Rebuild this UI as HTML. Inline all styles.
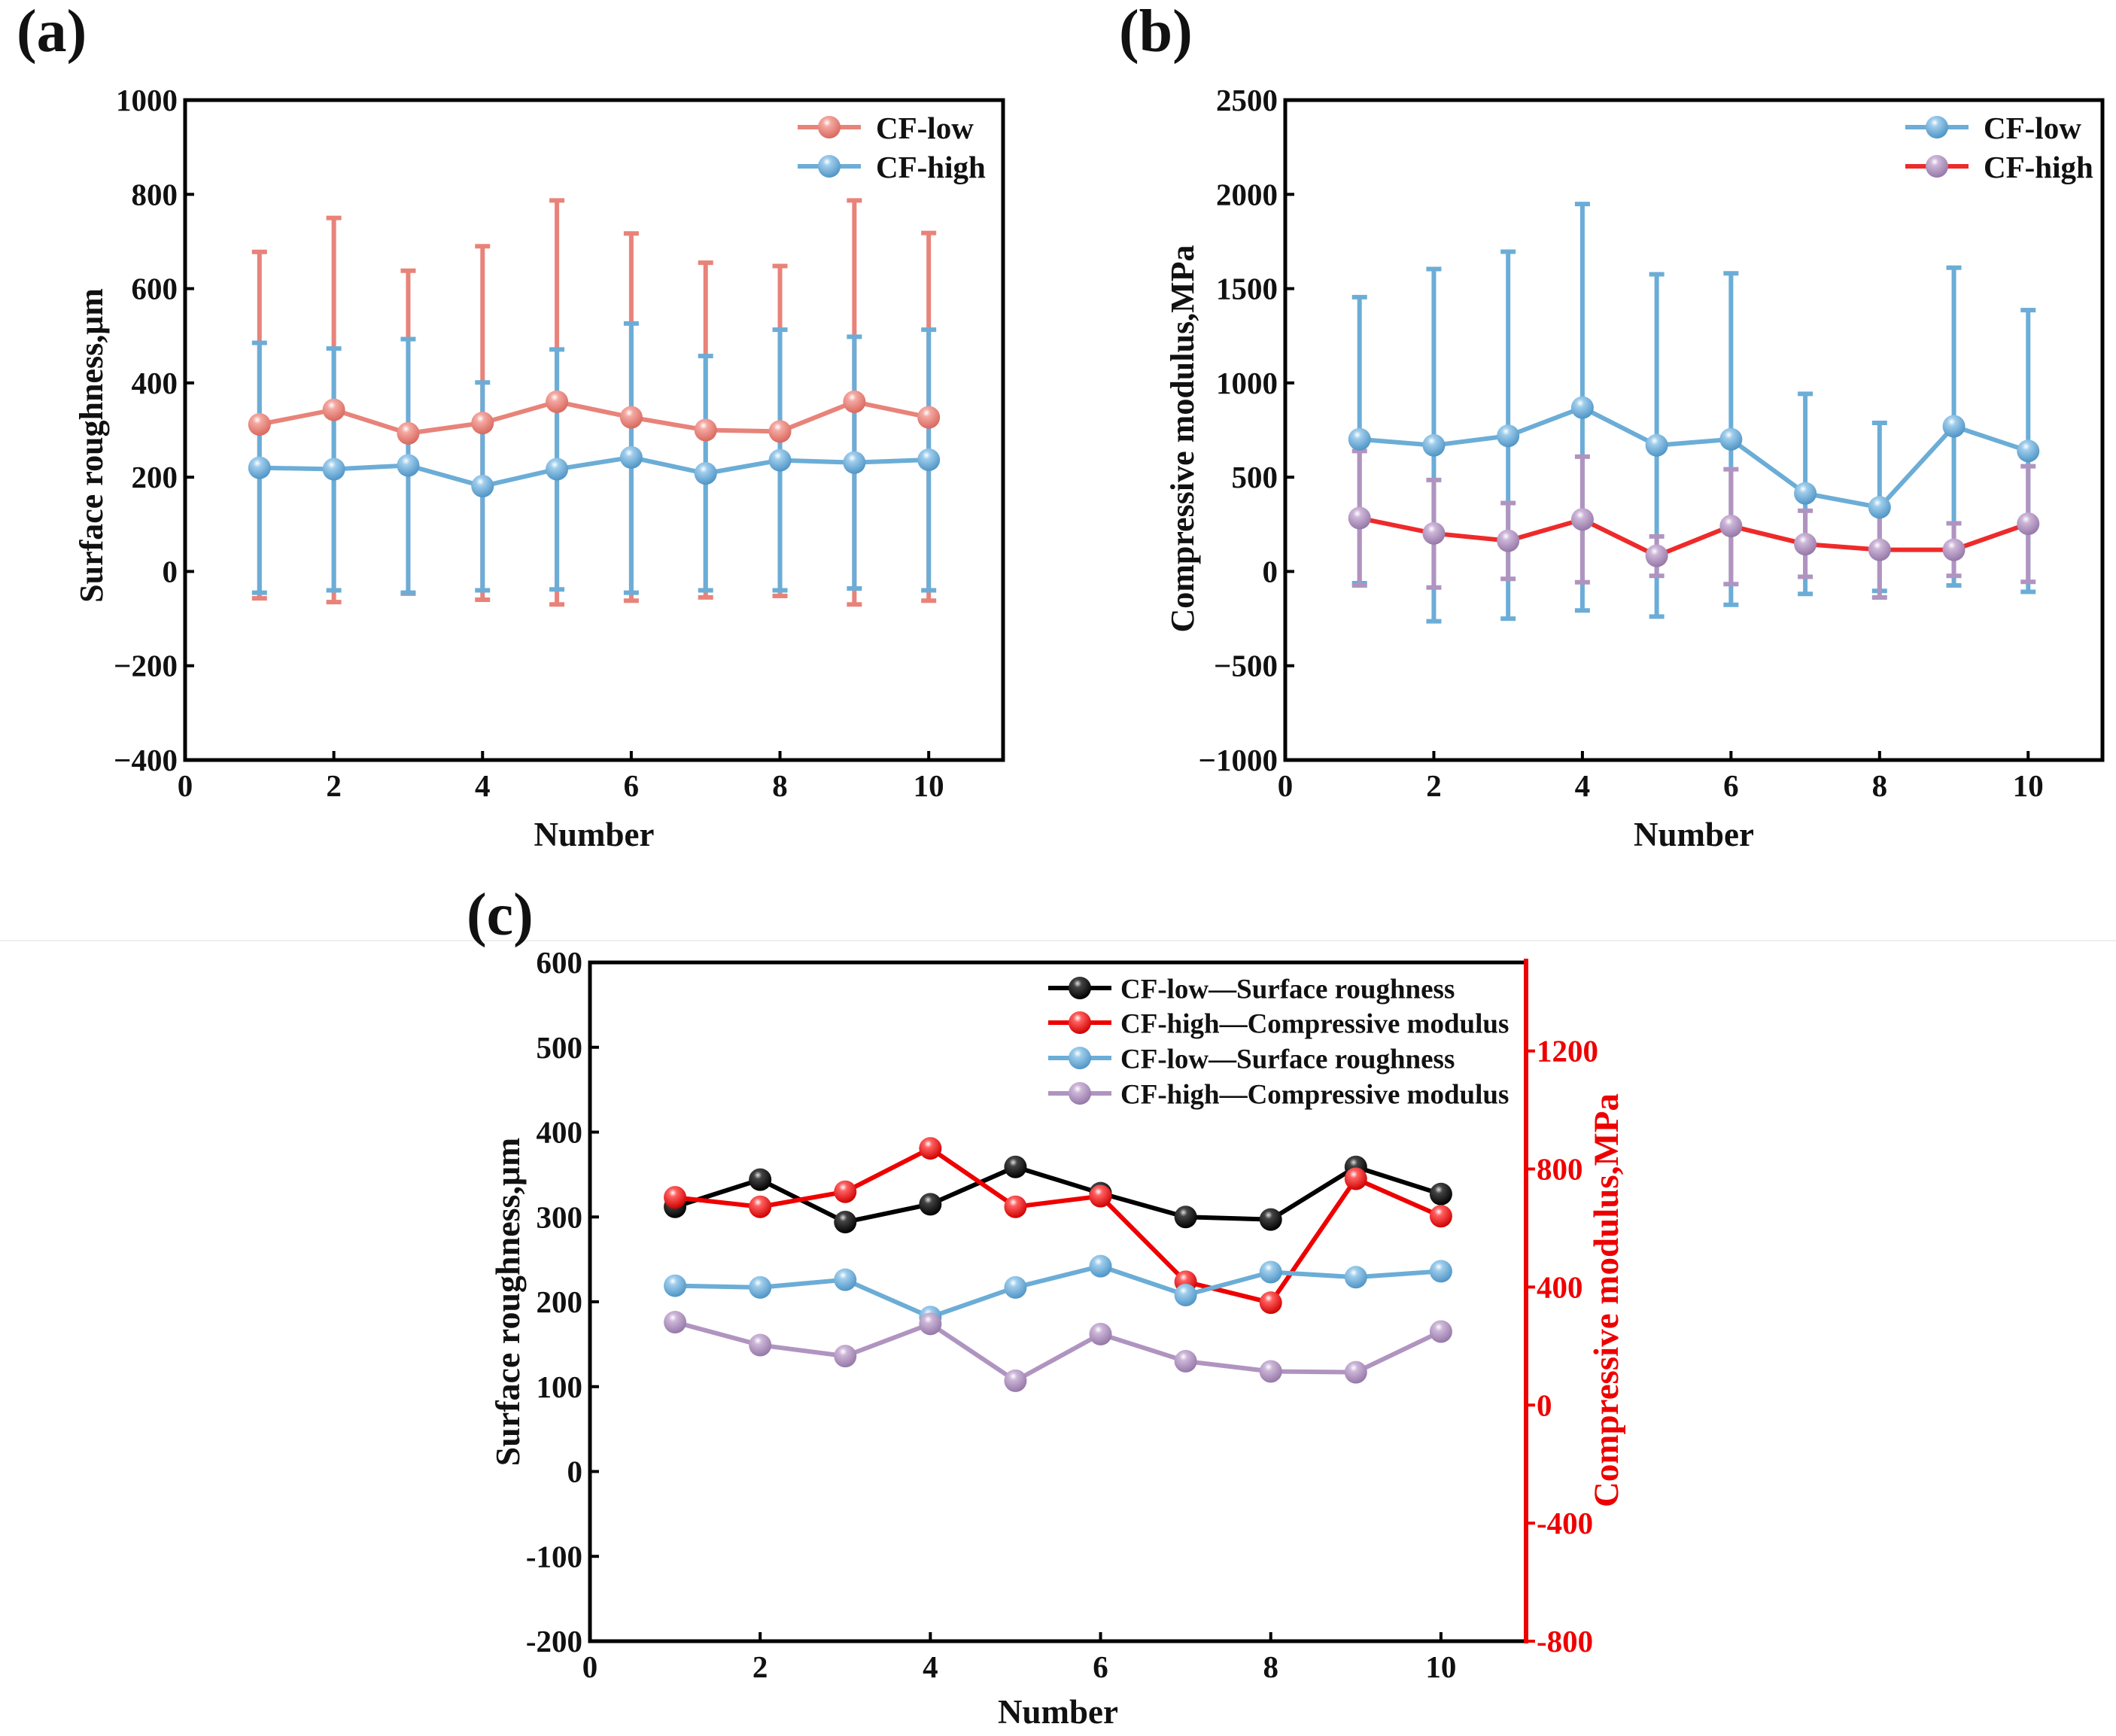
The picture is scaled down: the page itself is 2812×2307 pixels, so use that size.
<!DOCTYPE html>
<html><head><meta charset="utf-8"><style>
html,body{margin:0;padding:0;background:#fff}
svg{display:block}
text{font-family:"Liberation Serif",serif;font-weight:bold;fill:#111}
</style></head><body>
<svg id="s" width="2812" height="2307" viewBox="0 0 2812 2307" xmlns="http://www.w3.org/2000/svg">
<defs>
<radialGradient id="g-salmon" cx="0.4" cy="0.3" r="0.7"><stop offset="0" stop-color="#fff"/><stop offset="0.25" stop-color="#f4a9a2"/><stop offset="1" stop-color="#d9685e"/></radialGradient>
<radialGradient id="g-blue" cx="0.4" cy="0.3" r="0.7"><stop offset="0" stop-color="#fff"/><stop offset="0.25" stop-color="#9fcdec"/><stop offset="1" stop-color="#4f95c6"/></radialGradient>
<radialGradient id="g-purple" cx="0.4" cy="0.3" r="0.7"><stop offset="0" stop-color="#fff"/><stop offset="0.25" stop-color="#cdb6d8"/><stop offset="1" stop-color="#9578a8"/></radialGradient>
<radialGradient id="g-red" cx="0.4" cy="0.3" r="0.7"><stop offset="0" stop-color="#fff"/><stop offset="0.25" stop-color="#ff6060"/><stop offset="1" stop-color="#d00000"/></radialGradient>
<radialGradient id="g-black" cx="0.4" cy="0.3" r="0.7"><stop offset="0" stop-color="#ddd"/><stop offset="0.25" stop-color="#444"/><stop offset="1" stop-color="#000"/></radialGradient>
</defs>
<line x1="0" y1="1250" x2="2812" y2="1250" stroke="#eeeeee" stroke-width="2"/>
<g id="root"></g>
</svg>
<script>
// ---------- data ----------
const numbers = [1,2,3,4,5,6,7,8,9,10];
// Panel a
const aLowVal = [312,343,293,315,360,327,300,297,360,327];
const aLowUp  = [678,750,638,690,787,717,655,648,787,718];
const aLowDn  = [-57,-65,-47,-60,-70,-62,-55,-52,-70,-62];
const aHighVal = [220,217,225,181,217,242,208,236,231,237];
const aHighUp  = [485,473,493,401,471,526,457,513,498,513];
const aHighDn  = [-45,-40,-45,-40,-38,-45,-40,-40,-36,-40];
const aYTicks = [-400,-200,0,200,400,600,800,1000];
// Panel b
const bLowVal = [701,669,719,869,669,701,414,340,770,639];
const bLowUp  = [1455,1604,1696,1949,1576,1581,942,788,1611,1386];
const bLowDn  = [-62,-264,-250,-207,-239,-177,-119,-103,-74,-108];
const bHighVal = [283,202,163,276,83,241,145,115,115,253];
const bHighUp  = [639,485,363,609,186,542,322,370,255,558];
const bHighDn  = [-74,-85,-39,-57,-23,-67,-28,-138,-23,-55];
const bYTicks = [-1000,-500,0,500,1000,1500,2000,2500];
// Panel c
const cBlack  = [312,344,294,315,359,328,300,297,359,327];
const cRed    = [704,672,723,870,672,708,418,347,767,640];
const cBlue   = [219,217,226,182,217,242,208,235,229,236];
const cPurple = [176,149,136,174,107,162,130,118,117,165];
const cYTicks = [-200,-100,0,100,200,300,400,500,600];
const cY2Ticks = [-800,-400,0,400,800,1200];
const xTicks = [0,2,4,6,8,10];

const NS="http://www.w3.org/2000/svg";
const root=document.getElementById('root');
function mk(tag,attrs,parent){const e=document.createElementNS(NS,tag);for(const k in attrs)e.setAttribute(k,attrs[k]);(parent||root).appendChild(e);return e;}
function txt(str,attrs,parent){const e=mk('text',attrs,parent);e.textContent=str;return e;}

function panel(cfg){
  const g=mk('g',{});
  
  
  const {L,R,T,B,ymin,ymax}=cfg;
  const xs=v=>L+(v-0)/11*(R-L);
  const ys=v=>B-(v-ymin)/(ymax-ymin)*(B-T);
  cfg.xs=xs;cfg.ys=ys;
  xTicks.forEach(t=>{
    const tl=mk('line',{x1:xs(t),x2:xs(t),y1:B,y2:B-12,stroke:'#000','stroke-width':4},g);
    
    
    const lb=txt(String(t),{x:xs(t),y:B+48,'text-anchor':'middle','font-size':41},g);
    
    
  });
  cfg.yTicks.forEach(t=>{
    const tl=mk('line',{x1:L,x2:L+12,y1:ys(t),y2:ys(t),stroke:'#000','stroke-width':4},g);
    
    
    const lb=txt(String(t).replace('-',cfg.minus),{x:L-10,y:ys(t)+14,'text-anchor':'end','font-size':41},g);
    
    
  });
  const xt=txt('Number',{x:(L+R)/2,y:cfg.xtY,'text-anchor':'middle','font-size':45},g);
  
  
  const yt=txt(cfg.ytitle,{x:0,y:0,'text-anchor':'middle','font-size':cfg.ytFs,transform:`translate(${cfg.ytX},${cfg.ytY}) rotate(-90)`},g);
  
  
  const pl=txt(cfg.label,{x:cfg.labX,y:cfg.labY,'font-size':80},g);
  
  
  cfg.g=g;
  return cfg;
}
function frame(cfg){
  const f=mk('rect',{x:cfg.L,y:cfg.T,width:cfg.R-cfg.L,height:cfg.B-cfg.T,fill:'none',stroke:'#000','stroke-width':5},cfg.g);
  
  
}
function errbars(cfg,up,dn,color,name){
  numbers.forEach((n,i)=>{
    const x=cfg.xs(n);
    const e=mk('path',{d:`M${x},${cfg.ys(up[i])}V${cfg.ys(dn[i])}M${x-10},${cfg.ys(up[i])}H${x+10}M${x-10},${cfg.ys(dn[i])}H${x+10}`,stroke:color,'stroke-width':6,fill:'none'},cfg.g);
    
    
  });
}
function series(cfg,vals,lineColor,grad,name,ys){
  ys=ys||cfg.ys;
  const d=numbers.map((n,i)=>(i?'L':'M')+cfg.xs(n)+','+ys(vals[i])).join('');
  const p=mk('path',{d,stroke:lineColor,'stroke-width':6,fill:'none'},cfg.g);
  
  
  numbers.forEach((n,i)=>{
    const c=mk('circle',{cx:cfg.xs(n),cy:ys(vals[i]),r:15,fill:`url(#${grad})`},cfg.g);
    
    
  });
}
function legend(cfg,x,y,lineColor,grad,label,fs,name,gap){
  const g=mk('g',{},cfg.g);
  
  
  mk('line',{x1:x,x2:x+84,y1:y,y2:y,stroke:lineColor,'stroke-width':6},g);
  mk('circle',{cx:x+42,cy:y,r:15,fill:`url(#${grad})`},g);
  txt(label,{x:x+gap,y:y+fs*0.36,'font-size':fs},g);
}

// Panel a
const A=panel({name:'panel-a',L:246,R:1333,T:133,B:1010,ymin:-400,ymax:1000,yTicks:aYTicks,minus:'\u2212',xtY:1124,ytitle:'Surface roughness,\u03bcm',ytX:136,ytY:592,ytFs:44,label:'(a)',labX:22,labY:68});
errbars(A,aLowUp,aLowDn,'#e8837a','cf-low');
errbars(A,aHighUp,aHighDn,'#6badd6','cf-high');
series(A,aLowVal,'#e8837a','g-salmon','cf-low');
series(A,aHighVal,'#6badd6','g-blue','cf-high');
frame(A);
legend(A,1060,169,'#e8837a','g-salmon','CF-low',41,'legend-cf-low',104);
legend(A,1060,221,'#6badd6','g-blue','CF-high',41,'legend-cf-high',104);

// Panel b
const Bp=panel({name:'panel-b',L:1708,R:2794,T:133,B:1010,ymin:-1000,ymax:2500,yTicks:bYTicks,minus:'\u2212',xtY:1124,ytitle:'Compressive modulus,MPa',ytX:1586,ytY:583,ytFs:44,label:'(b)',labX:1487,labY:68});
errbars(Bp,bLowUp,bLowDn,'#6badd6','cf-low');
errbars(Bp,bHighUp,bHighDn,'#b094c0','cf-high');
series(Bp,bLowVal,'#6badd6','g-blue','cf-low');
series(Bp,bHighVal,'#ee2a2a','g-purple','cf-high');
frame(Bp);
legend(Bp,2532,169,'#6badd6','g-blue','CF-low',41,'legend-cf-low',104);
legend(Bp,2532,221,'#ee2a2a','g-purple','CF-high',41,'legend-cf-high',104);

// Panel c
const C=panel({name:'panel-c',L:784,R:2028,T:1279,B:2181,ymin:-200,ymax:600,yTicks:cYTicks,minus:'-',xtY:2290,ytitle:'Surface roughness,\u03bcm',ytX:690,ytY:1730,ytFs:46,label:'(c)',labX:620,labY:1242});
const ys2=v=>C.B-(v+800)/2300*(C.B-C.T);
series(C,cBlack,'#000','g-black','cf-low-roughness');
series(C,cRed,'#ee0000','g-red','cf-high-modulus',ys2);
series(C,cBlue,'#6badd6','g-blue','cf-low-roughness-2');
series(C,cPurple,'#b094c0','g-purple','cf-high-modulus-2');
const fr=mk('path',{d:`M${C.R},${C.T}H${C.L}V${C.B}H${C.R}`,stroke:'#000','stroke-width':5,fill:'none'},C.g);


const ra=mk('line',{x1:C.R,x2:C.R,y1:C.T-5,y2:C.B+3,stroke:'#ee0000','stroke-width':6},C.g);


cY2Ticks.forEach(t=>{
  const tl=mk('line',{x1:C.R,x2:C.R+12,y1:ys2(t),y2:ys2(t),stroke:'#ee0000','stroke-width':4},C.g);
  
  
  const lb=txt(String(t),{x:C.R+14,y:ys2(t)+14,'font-size':41,style:'fill:#ee0000'},C.g);
  
  
});
const rt=txt('Compressive modulus,MPa',{x:0,y:0,'text-anchor':'middle','font-size':47,style:'fill:#ee0000',transform:`translate(2150,${(C.T+C.B)/2-2}) rotate(-90)`},C.g);


legend(C,1393,1313,'#000','g-black','CF-low\u2014Surface roughness',37,'legend-cf-low-roughness',96);
legend(C,1393,1359,'#ee0000','g-red','CF-high\u2014Compressive modulus',37,'legend-cf-high-modulus',96);
legend(C,1393,1406,'#6badd6','g-blue','CF-low\u2014Surface roughness',37,'legend-cf-low-roughness-2',96);
legend(C,1393,1453,'#b094c0','g-purple','CF-high\u2014Compressive modulus',37,'legend-cf-high-modulus-2',96);
</script>
</body></html>
